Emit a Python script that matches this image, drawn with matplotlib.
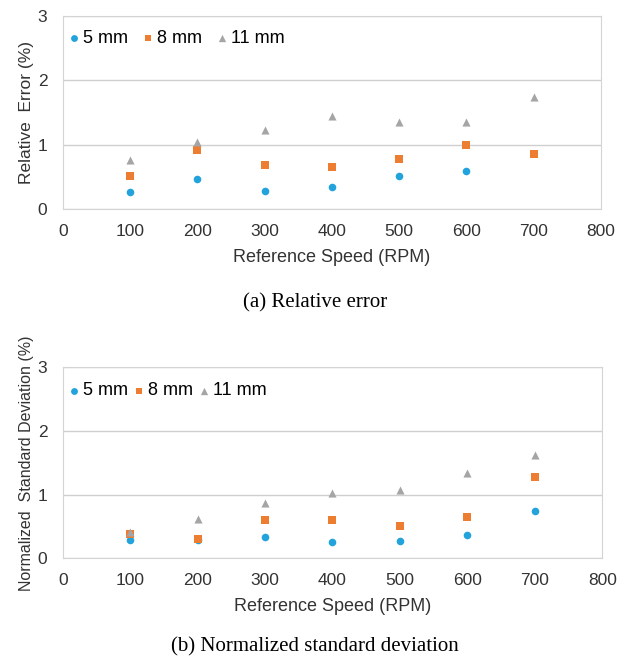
import matplotlib
matplotlib.use("Agg")
import matplotlib.pyplot as plt

# data
speed = [100, 200, 300, 400, 500, 600, 700]
series_names = ["5 mm", "8 mm", "11 mm"]

rel_5 = [0.26, 0.47, 0.29, 0.34, 0.51, 0.59]          # no 700 point
rel_8 = [0.52, 0.92, 0.69, 0.65, 0.78, 1.00, 0.86]
rel_11 = [0.77, 1.04, 1.23, 1.45, 1.36, 1.35, 1.74]

std_5 = [0.29, 0.29, 0.33, 0.26, 0.27, 0.36, 0.74]
std_8 = [0.38, 0.30, 0.60, 0.60, 0.51, 0.65, 1.27]
std_11 = [0.42, 0.61, 0.87, 1.03, 1.07, 1.34, 1.63]

COLORS = ["#22a3dc", "#ed7d31", "#a5a5a5"]
MARKERS = ["o", "s", "^"]
SIZES = [30, 26, 34]
TXT = "#333333"

plt.rcParams["font.family"] = ["Liberation Sans", "DejaVu Sans"]

fig = plt.figure(figsize=(6.27, 6.56), dpi=100)


def panel(rect, ys, ylabel, ylab_size, caption, cap_y, colspace, leg_y):
    ax = fig.add_axes(rect)
    for vals, name, c, m, s in zip(ys, series_names, COLORS, MARKERS, SIZES):
        ax.scatter(speed[:len(vals)], vals, color=c, marker=m, s=s, label=name,
                   linewidths=0, zorder=3)
    ax.set_xlim(0, 800)
    ax.set_ylim(0, 3)
    ax.set_xticks(range(0, 801, 100))
    ax.set_yticks([0, 1, 2, 3])
    ax.grid(axis="y", color="#cfcfcf", linewidth=1)
    ax.set_axisbelow(True)
    for sp in ax.spines.values():
        sp.set_color("#d4d4d4")
    ax.tick_params(axis="x", length=0, labelsize=12.5, pad=10.5, colors=TXT)
    ax.tick_params(axis="y", length=0, labelsize=12.5, pad=11, colors=TXT)
    ax.set_xlabel("Reference Speed (RPM)", fontsize=13, color=TXT, labelpad=7.5)
    ax.set_ylabel(ylabel, fontsize=ylab_size, color=TXT, labelpad=2.5)
    ax.legend(loc="center left", ncol=3, frameon=False, fontsize=13,
              handletextpad=0.1, columnspacing=colspace, borderaxespad=0,
              borderpad=0, markerscale=0.9, handlelength=0.8,
              bbox_to_anchor=(0.008, leg_y))
    fig.text(0.502, cap_y, caption, ha="center", va="center", fontsize=15,
             family=["Liberation Serif", "DejaVu Serif"])
    return ax


panel([0.1, 0.681, 0.8585, 0.2951], [rel_5, rel_8, rel_11],
      "Relative  Error (%)", 12.5, "(a) Relative error", 1 - 302.5 / 656, 0.71, 0.882)
panel([0.1, 0.1489, 0.8606, 0.2912], [std_5, std_8, std_11],
      "Normalized  Standard Deviation (%)", 11.5, "(b) Normalized standard deviation",
      1 - 646.6 / 656, 0.21, 0.876)

fig.savefig("out.png", dpi=100)
